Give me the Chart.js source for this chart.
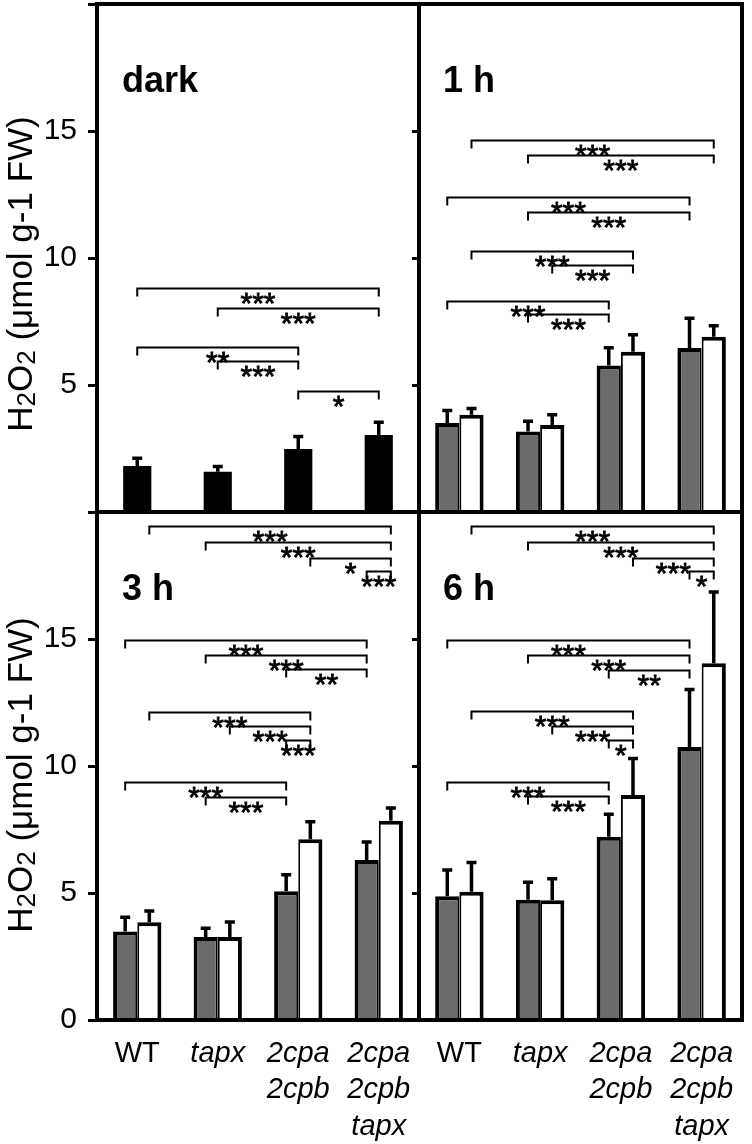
<!DOCTYPE html>
<html><head><meta charset="utf-8">
<script src="https://cdn.jsdelivr.net/npm/chart.js@4.4.0/dist/chart.umd.min.js"></script>
<style>
html,body{margin:0;padding:0;background:#fff;}
body{width:752px;height:1144px;position:relative;overflow:hidden;}
canvas{position:absolute;}
</style></head><body>
<canvas id="cTL" width="423" height="516" style="left:0px;top:0px;width:423px;height:516px"></canvas>
<canvas id="cTR" width="341" height="516" style="left:411px;top:0px;width:341px;height:516px"></canvas>
<canvas id="cBL" width="423" height="636" style="left:0px;top:508px;width:423px;height:636px"></canvas>
<canvas id="cBR" width="341" height="636" style="left:411px;top:508px;width:341px;height:636px"></canvas>
<script>
// ---------- data ----------
const categories = [['WT'], ['tapx'], ['2cpa', '2cpb'], ['2cpa', '2cpb', 'tapx']];
const yMin = 0, yMax = 20, yStep = 5;
const panelLabels = ['dark', '1 h', '3 h', '6 h'];

const darkValues = [1.81, 1.58, 2.48, 3.03];
const darkSD     = [0.37, 0.27, 0.55, 0.56];

const h1Grey    = [3.50, 3.17, 5.77, 6.46];
const h1GreySD  = [0.56, 0.46, 0.76, 1.23];
const h1White   = [3.83, 3.43, 6.31, 6.90];
const h1WhiteSD = [0.30, 0.46, 0.73, 0.49];

const h3Grey    = [3.48, 3.27, 5.07, 6.30];
const h3GreySD  = [0.62, 0.40, 0.71, 0.77];
const h3White   = [3.85, 3.27, 7.12, 7.84];
const h3WhiteSD = [0.50, 0.65, 0.74, 0.57];

const h6Grey    = [4.87, 4.73, 7.21, 10.75];
const h6GreySD  = [1.09, 0.75, 0.95, 2.32];
const h6White   = [5.05, 4.71, 8.86, 14.05];
const h6WhiteSD = [1.21, 0.91, 1.49, 2.86];

// brackets: [fromCategory, fromSeries, toCategory, toSeries, level, label]
const darkBrackets = [
  [0,0, 3,0, 8.81, '***'],
  [1,0, 3,0, 8.02, '***'],
  [0,0, 2,0, 6.49, '**'],
  [1,0, 2,0, 5.94, '***'],
  [2,0, 3,0, 4.75, '*']
];
const h1Brackets = [
  [0,1, 3,1, 14.64, '***'],
  [1,0, 3,1, 14.05, '***'],
  [0,0, 3,0, 12.40, '***'],
  [1,0, 3,0, 11.81, '***'],
  [0,1, 2,1, 10.29, '***'],
  [1,1, 2,1, 9.72, '***'],
  [0,0, 2,0, 8.31, '***'],
  [1,0, 2,0, 7.78, '***']
];
const h3Brackets = [
  [0,1, 3,1, 19.43, '***'],
  [1,0, 3,1, 18.82, '***'],
  [2,1, 3,1, 18.20, '*'],
  [3,0, 3,1, 17.66, '***'],
  [0,0, 3,0, 14.97, '***'],
  [1,0, 3,0, 14.37, '***'],
  [2,0, 3,0, 13.81, '**'],
  [0,1, 2,1, 12.11, '***'],
  [1,1, 2,1, 11.56, '***'],
  [2,0, 2,1, 11.03, '***'],
  [0,0, 2,0, 9.36, '***'],
  [1,0, 2,0, 8.79, '***']
];
const h6Brackets = [
  [0,1, 3,1, 19.43, '***'],
  [1,0, 3,1, 18.82, '***'],
  [2,1, 3,1, 18.20, '***'],
  [3,0, 3,1, 17.66, '*'],
  [0,0, 3,0, 14.97, '***'],
  [1,0, 3,0, 14.37, '***'],
  [2,0, 3,0, 13.78, '**'],
  [0,1, 2,1, 12.15, '***'],
  [1,1, 2,1, 11.58, '***'],
  [2,0, 2,1, 11.03, '*'],
  [0,0, 2,0, 9.36, '***'],
  [1,0, 2,0, 8.82, '***']
];

// ---------- styling ----------
const FONT = '"Liberation Sans", Arial, Helvetica, sans-serif';
const GREY = '#6b6b6b';
Chart.defaults.color = '#000';
Chart.defaults.font.family = FONT;

function annotPlugin(cfg) {
  return {
    id: 'annot_' + cfg.name,
    afterDatasetsDraw(chart) {
      const ctx = chart.ctx;
      const ys = chart.scales.y;
      const area = chart.chartArea;
      ctx.save();
      // error bars (upper only)
      cfg.sds.forEach((sd, d) => {
        const meta = chart.getDatasetMeta(d);
        const vals = chart.data.datasets[d].data;
        meta.data.forEach((bar, i) => {
          const x = bar.x;
          const y0 = ys.getPixelForValue(vals[i]);
          const y1 = ys.getPixelForValue(vals[i] + sd[i]);
          ctx.strokeStyle = '#000';
          ctx.lineWidth = 3.5;
          ctx.lineCap = 'butt';
          ctx.beginPath();
          ctx.moveTo(x, y0);
          ctx.lineTo(x, y1);
          ctx.moveTo(x - 5, y1 + 1.5);
          ctx.lineTo(x + 5, y1 + 1.5);
          ctx.stroke();
        });
      });
      // significance brackets
      ctx.fillStyle = '#000';
      cfg.brackets.forEach(b => {
        const xa = chart.getDatasetMeta(b[1]).data[b[0]].x;
        const xb = chart.getDatasetMeta(b[3]).data[b[2]].x;
        const y = Math.round(ys.getPixelForValue(b[4])) + 0.5;
        ctx.strokeStyle = '#000';
        ctx.lineWidth = 2;
        ctx.beginPath();
        ctx.moveTo(xa, y + 8);
        ctx.lineTo(xa, y);
        ctx.lineTo(xb, y);
        ctx.lineTo(xb, y + 8);
        ctx.stroke();
        ctx.font = '30px ' + FONT;
        ctx.textAlign = 'center';
        ctx.textBaseline = 'alphabetic';
        ctx.lineWidth = 0.8;
        ctx.fillText(b[5], (xa + xb) / 2, y + 24);
        ctx.strokeText(b[5], (xa + xb) / 2, y + 24);
      });
      // frame
      ctx.strokeStyle = '#000';
      ctx.lineWidth = 4;
      ctx.strokeRect(area.left, area.top, area.right - area.left, area.bottom - area.top);
      // panel label
      ctx.font = 'bold 36px ' + FONT;
      ctx.textAlign = 'left';
      ctx.textBaseline = 'alphabetic';
      ctx.fillText(cfg.label, area.left + cfg.labelDx, area.top + 88);
      // y-axis title with subscripts
      if (cfg.yTitle) {
        const big = '35px ' + FONT, small = '26px ' + FONT;
        const parts = [['H', 0], ['2', 1], ['O', 0], ['2', 1], [' (μmol g-1 FW)', 0]];
        let total = 0;
        parts.forEach(p => { ctx.font = p[1] ? small : big; total += ctx.measureText(p[0]).width; });
        ctx.translate(32, area.top + cfg.titleDy);
        ctx.rotate(-Math.PI / 2);
        let x = -total / 2;
        parts.forEach(p => {
          ctx.font = p[1] ? small : big;
          ctx.fillText(p[0], x, p[1] ? 3 : 0);
          x += ctx.measureText(p[0]).width;
        });
      }
      ctx.restore();
    }
  };
}

function makeChart(id, opts) {
  const left = opts.left;
  const datasets = opts.series.map((s) => ({
    data: s.values,
    backgroundColor: s.color,
    borderColor: '#000',
    borderWidth: s.border,
    borderSkipped: false,
    categoryPercentage: opts.catPct,
    barPercentage: 1.0
  }));
  const yTickLabels = opts.showZero ? [0, 5, 10, 15] : [5, 10, 15];
  return new Chart(document.getElementById(id), {
    type: 'bar',
    data: { labels: categories, datasets },
    options: {
      responsive: false,
      animation: false,
      devicePixelRatio: 1,
      layout: { autoPadding: false, padding: { top: 4, right: opts.padRight, bottom: opts.bottomAxis ? 0 : 4, left: 0 } },
      plugins: { legend: { display: false }, tooltip: { enabled: false } },
      scales: {
        x: {
          display: opts.bottomAxis,
          grid: { display: false, drawTicks: false },
          border: { display: false },
          ticks: {
            padding: 16,
            color: '#000',
            maxRotation: 0,
            autoSkip: false,
            font: (c) => ({ family: FONT, size: 29, lineHeight: 1.25, style: c.index === 0 ? 'normal' : 'italic' })
          },
          afterFit: (s) => {
            s.height = opts.bottomAxis ? 124 : 0;
            s.paddingLeft = 0; s.paddingRight = 0;
          }
        },
        y: {
          min: yMin, max: yMax,
          border: { display: false },
          grid: { drawOnChartArea: false, drawTicks: true, tickLength: left ? 9 : 7, tickWidth: 3, lineWidth: 3, color: '#000' },
          ticks: {
            stepSize: yStep,
            display: left,
            padding: 11,
            color: '#000',
            font: { family: FONT, size: 30 },
            callback: (v) => (yTickLabels.includes(v) ? String(v) : '')
          },
          afterFit: (s) => {
            s.width = left ? 97 : 8;
            s.paddingTop = 0; s.paddingBottom = 0;
          }
        }
      }
    },
    plugins: [annotPlugin(opts.annot)]
  });
}

const greyBorder  = { left: 4, top: 4, right: 2, bottom: 0 };
const whiteBorder = { left: 2, top: 4, right: 4, bottom: 0 };

makeChart('cTL', {
  left: true, padRight: 4, bottomAxis: false, showZero: false, catPct: 0.35,
  series: [{ values: darkValues, color: '#000', border: 0 }],
  annot: { name: 'tl', sds: [darkSD], brackets: darkBrackets, label: panelLabels[0], labelDx: 25, yTitle: true, titleDy: 270 }
});
makeChart('cTR', {
  left: false, padRight: 10, bottomAxis: false, showZero: false, catPct: 0.6,
  series: [{ values: h1Grey, color: GREY, border: greyBorder }, { values: h1White, color: '#fff', border: whiteBorder }],
  annot: { name: 'tr', sds: [h1GreySD, h1WhiteSD], brackets: h1Brackets, label: panelLabels[1], labelDx: 24, yTitle: false }
});
makeChart('cBL', {
  left: true, padRight: 4, bottomAxis: true, showZero: true, catPct: 0.6,
  series: [{ values: h3Grey, color: GREY, border: greyBorder }, { values: h3White, color: '#fff', border: whiteBorder }],
  annot: { name: 'bl', sds: [h3GreySD, h3WhiteSD], brackets: h3Brackets, label: panelLabels[2], labelDx: 25, yTitle: true, titleDy: 263 }
});
makeChart('cBR', {
  left: false, padRight: 10, bottomAxis: true, showZero: false, catPct: 0.6,
  series: [{ values: h6Grey, color: GREY, border: greyBorder }, { values: h6White, color: '#fff', border: whiteBorder }],
  annot: { name: 'br', sds: [h6GreySD, h6WhiteSD], brackets: h6Brackets, label: panelLabels[3], labelDx: 24, yTitle: false }
});
</script>
</body></html>
